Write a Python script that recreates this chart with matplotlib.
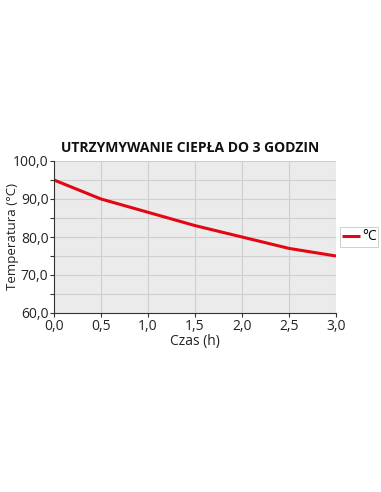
import matplotlib
matplotlib.use("Agg")
import matplotlib.pyplot as plt
from matplotlib.ticker import MultipleLocator, FuncFormatter

plt.rcParams['font.family'] = ['Open Sans', 'DejaVu Sans']

hours = [0.0, 0.5, 1.0, 1.5, 2.0, 2.5, 3.0]
temps = [95.0, 90.0, 86.5, 83.0, 80.0, 77.0, 75.0]
title = "UTRZYMYWANIE CIEPŁA DO 3 GODZIN"
series_label = "°C"

fig = plt.figure(figsize=(3.81, 4.92), dpi=100)
ax = fig.add_axes([54/381, 1-313/492, (336-54)/381, (313-161)/492])
ax.set_facecolor('#ebebeb')
ax.plot(hours, temps, color='#e30613', lw=2.2, label=series_label, solid_capstyle='butt')
ax.set_xlim(0, 3)
ax.set_ylim(60, 100)
ax.xaxis.set_major_locator(MultipleLocator(0.5))
ax.yaxis.set_major_locator(MultipleLocator(10))
ax.yaxis.set_minor_locator(MultipleLocator(5))
fmt = FuncFormatter(lambda v, p: f"{v:.1f}".replace('.', ','))
ax.xaxis.set_major_formatter(fmt)
ax.yaxis.set_major_formatter(fmt)
ax.grid(True, which='both', color='#cfcfcf', lw=0.8)
ax.set_axisbelow(True)
for s in ['top', 'right']:
    ax.spines[s].set_visible(False)
for s in ['left', 'bottom']:
    ax.spines[s].set_color('#333333')
    ax.spines[s].set_linewidth(0.8)
ax.tick_params(which='both', direction='out', length=3, width=0.8, color='#333333', labelsize=10, pad=1, labelcolor='#222222')
ax.set_xlabel("Czas (h)", fontsize=10, labelpad=0, color='#222222')
ax.set_ylabel("Temperatura (°C)", fontsize=9.5, color='#222222')
ax.yaxis.set_label_coords((19-54)/282, 0.5)
fig.text(0.5, 1-148/492, title, ha='center', va='center', fontsize=10, fontweight='bold', color='#111111')
leg = ax.legend(loc='center left', bbox_to_anchor=(1.015, 0.5), fontsize=10, frameon=True,
                fancybox=False, handlelength=1.3, handletextpad=0.1, borderpad=0.15, borderaxespad=0)
leg.get_frame().set_edgecolor('#bbbbbb')
leg.get_frame().set_linewidth(0.6)
fig.savefig('out.png', dpi=100, facecolor='white')
